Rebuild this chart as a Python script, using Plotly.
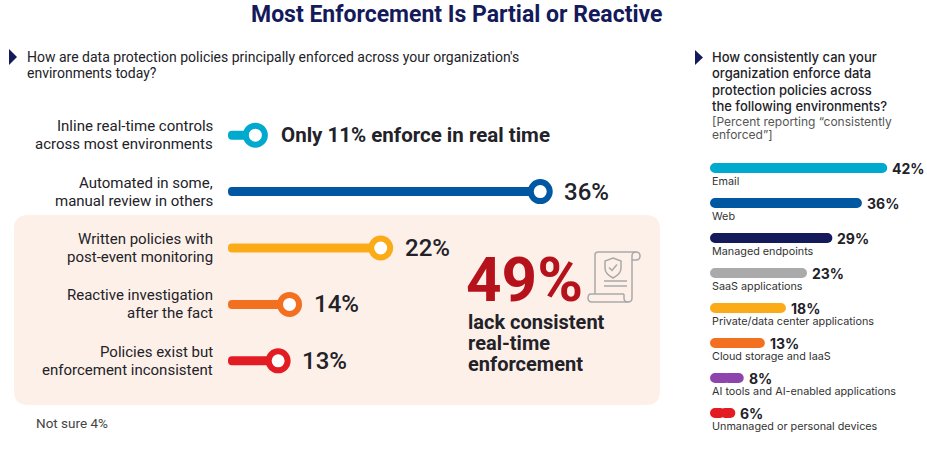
import plotly.graph_objects as go

W, H = 927, 452

# left panel: principal enforcement approach (% of respondents)
enf_labels = [
    "Inline real-time controls<br>across most environments",
    "Automated in some,<br>manual review in others",
    "Written policies with<br>post-event monitoring",
    "Reactive investigation<br>after the fact",
    "Policies exist but<br>enforcement inconsistent",
]
enf_values = [11, 36, 22, 14, 13]
enf_colors = ["#00a9ce", "#0058a2", "#fbab18", "#f37021", "#e31b23"]
not_sure = 4
lack_share = 49

# right panel: % reporting "consistently enforced"
env_labels = [
    "Email", "Web", "Managed endpoints", "SaaS applications",
    "Private/data center applications", "Cloud storage and IaaS",
    "AI tools and AI-enabled applications", "Unmanaged or personal devices",
]
env_values = [42, 36, 29, 23, 18, 13, 8, 6]
env_colors = ["#00a9ce", "#0058a2", "#141a5a", "#aaaaaa",
              "#fbab18", "#f37021", "#8e44ad", "#e31b23"]

NAVY = "#141a5a"
INK = "#222228"
LEFT_FONT = "Roboto"
RIGHT_FONT = "Inter"
STEM_START = 8.6  # left axis starts here, stems grow from it


def px(x):
    return x / W


def py(y):
    return 1 - y / H


def paper_path(d):
    """Path written in pixel coords -> paper coords."""
    out, pair = [], []
    for t in d.replace(",", " ").split():
        if t.isalpha():
            out.append(t)
            continue
        pair.append(float(t))
        if len(pair) == 2:
            out.append(f"{px(pair[0]):.5f},{py(pair[1]):.5f}")
            pair = []
    return " ".join(out)


def rounded_rect(x0, y0, x1, y1, r):
    return (f"M {x0 + r} {y0} L {x1 - r} {y0} Q {x1} {y0} {x1} {y0 + r} "
            f"L {x1} {y1 - r} Q {x1} {y1} {x1 - r} {y1} L {x0 + r} {y1} "
            f"Q {x0} {y1} {x0} {y1 - r} L {x0} {y0 + r} Q {x0} {y0} {x0 + r} {y0} Z")


fig = go.Figure()

# left lollipops
rows = list(range(len(enf_values)))
fig.add_trace(go.Bar(
    y=rows, x=[STEM_START - v for v in enf_values], base=enf_values,
    orientation="h", width=0.16,
    marker=dict(color=enf_colors, cornerradius="50%", line=dict(width=0)),
    xaxis="x", yaxis="y", hoverinfo="skip",
))
fig.add_trace(go.Scatter(
    x=enf_values, y=rows, mode="markers",
    marker=dict(size=19, color="white", line=dict(width=6, color=enf_colors)),
    xaxis="x", yaxis="y", hoverinfo="skip",
))

# right bars (two overlapping halves so both ends get rounded)
env_rows = list(range(len(env_values)))
for lo_frac, hi_frac in ((0.6, 0.0), (0.4, 1.0)):
    fig.add_trace(go.Bar(
        y=env_rows,
        base=[v * lo_frac for v in env_values],
        x=[v * (hi_frac - lo_frac) for v in env_values],
        orientation="h", width=0.29,
        marker=dict(color=env_colors, cornerradius="50%", line=dict(width=0)),
        xaxis="x2", yaxis="y2", hoverinfo="skip",
    ))

ann = []


def txt(text, x, y, size, color=INK, family=LEFT_FONT, weight="normal",
        xanchor="left", xref="paper", yref="paper", xshift=0, yshift=0,
        align="left"):
    ann.append(dict(text=text, x=x, y=y, xref=xref, yref=yref,
                    xanchor=xanchor, yanchor="middle", showarrow=False,
                    xshift=xshift, yshift=yshift, align=align,
                    font=dict(family=family, size=size, color=color,
                              weight=weight)))


txt("Most Enforcement Is Partial or Reactive", px(456), py(14), 23,
    color=NAVY, weight="bold", xanchor="center")

# left question
txt("How are data protection policies principally enforced across your "
    "organization's", px(25), py(57), 14)
txt("environments today?", px(25), py(73), 14)

for i, (lab, v) in enumerate(zip(enf_labels, enf_values)):
    top, bottom = lab.split("<br>")
    txt(top, px(215), i, 15, xanchor="right", yref="y", yshift=9)
    txt(bottom, px(215), i, 15, xanchor="right", yref="y", yshift=-9)
    if i == 0:
        txt(f"Only {v}% enforce in real time", v, i, 20.5, weight="bold",
            xref="x", yref="y", xshift=24)
    else:
        txt(f"{v}%", v, i, 24, weight=500, xref="x", yref="y", xshift=22)

txt(f"{lack_share}%", px(464), py(279), 62, color="#b5121b", weight="bold")
for k, line in enumerate(["lack consistent", "real-time", "enforcement"]):
    txt(line, px(466), py(322 + 21 * k), 20, weight="bold")

txt(f"Not sure {not_sure}%", px(34), py(423), 13.5, color="#444444")

# right question
for k, line in enumerate(["How consistently can your",
                          "organization enforce data",
                          "protection policies across",
                          "the following environments?"]):
    txt(line, px(710), py(57 + 16.4 * k), 13, family=RIGHT_FONT, weight=500)
for k, line in enumerate(["[Percent reporting \u201cconsistently",
                          "enforced\u201d]"]):
    txt(line, px(710), py(121 + 14 * k), 12, color="#555555",
        family=RIGHT_FONT)

for i, (lab, v) in enumerate(zip(env_labels, env_values)):
    txt(f"{v}%", v, i, 14, family=RIGHT_FONT, weight="bold",
        xref="x2", yref="y2", xshift=3)
    txt(lab, 0, i, 10.8, color="#333333", family=RIGHT_FONT,
        xref="x2", yref="y2", yshift=-13.5)

shapes = [
    dict(type="path", path=paper_path(rounded_rect(14, 215, 660, 405, 14)),
         xref="paper", yref="paper", fillcolor="#fdf0e9",
         line=dict(width=0), layer="below"),
    dict(type="path", path=paper_path("M 9 49 L 17 57 L 9 65 Z"),
         xref="paper", yref="paper", fillcolor=NAVY, line=dict(width=0)),
    dict(type="path", path=paper_path("M 695 50 L 703 57.5 L 695 65 Z"),
         xref="paper", yref="paper", fillcolor=NAVY, line=dict(width=0)),
]

# document icon next to the 49% callout
icon_paths = [
    "M 595 294 L 595 255 Q 595 252 598 252 L 636 252 Q 640 252 640 256 "
    "Q 640 260 636 260 L 632 260 L 632 298",
    "M 632 260 L 632 256 Q 632 252 636 252",
    "M 624 294 L 591 294 Q 588 294 588 298 Q 588 302 592 302 L 628 302 "
    "Q 632 302 632 298",
    "M 624 294 L 624 298 Q 624 302 628 302",
    "M 613 258 L 621 261 L 621 268 Q 621 274 613 278 Q 605 274 605 268 "
    "L 605 261 Z",
    "M 609 267.5 L 612 270.5 L 617 264.5",
    "M 604 281 L 627 281",
    "M 604 286 L 627 286",
]
for p in icon_paths:
    shapes.append(dict(type="path", path=paper_path(p), xref="paper",
                       yref="paper", fillcolor="rgba(0,0,0,0)",
                       line=dict(color="#a9a9a9", width=1.5)))

hidden = dict(visible=False, fixedrange=True)
fig.update_layout(
    width=W, height=H,
    margin=dict(l=0, r=0, t=0, b=0),
    paper_bgcolor="white", plot_bgcolor="rgba(0,0,0,0)",
    showlegend=False, barmode="overlay",
    xaxis=dict(domain=[px(228), px(620)], range=[STEM_START, 43.0],
               anchor="y", **hidden),
    yaxis=dict(domain=[py(389), py(107)], range=[4.5, -0.5],
               anchor="x", **hidden),
    xaxis2=dict(domain=[px(710), 1], range=[0, 217 / 4.22],
                anchor="y2", **hidden),
    yaxis2=dict(domain=[py(430.5), py(150.5)], range=[7.5, -0.5],
                anchor="x2", **hidden),
    annotations=ann,
    shapes=shapes,
)

fig.write_html("out.html", config={"displayModeBar": False},
               post_script="document.body.style.margin='0';")
